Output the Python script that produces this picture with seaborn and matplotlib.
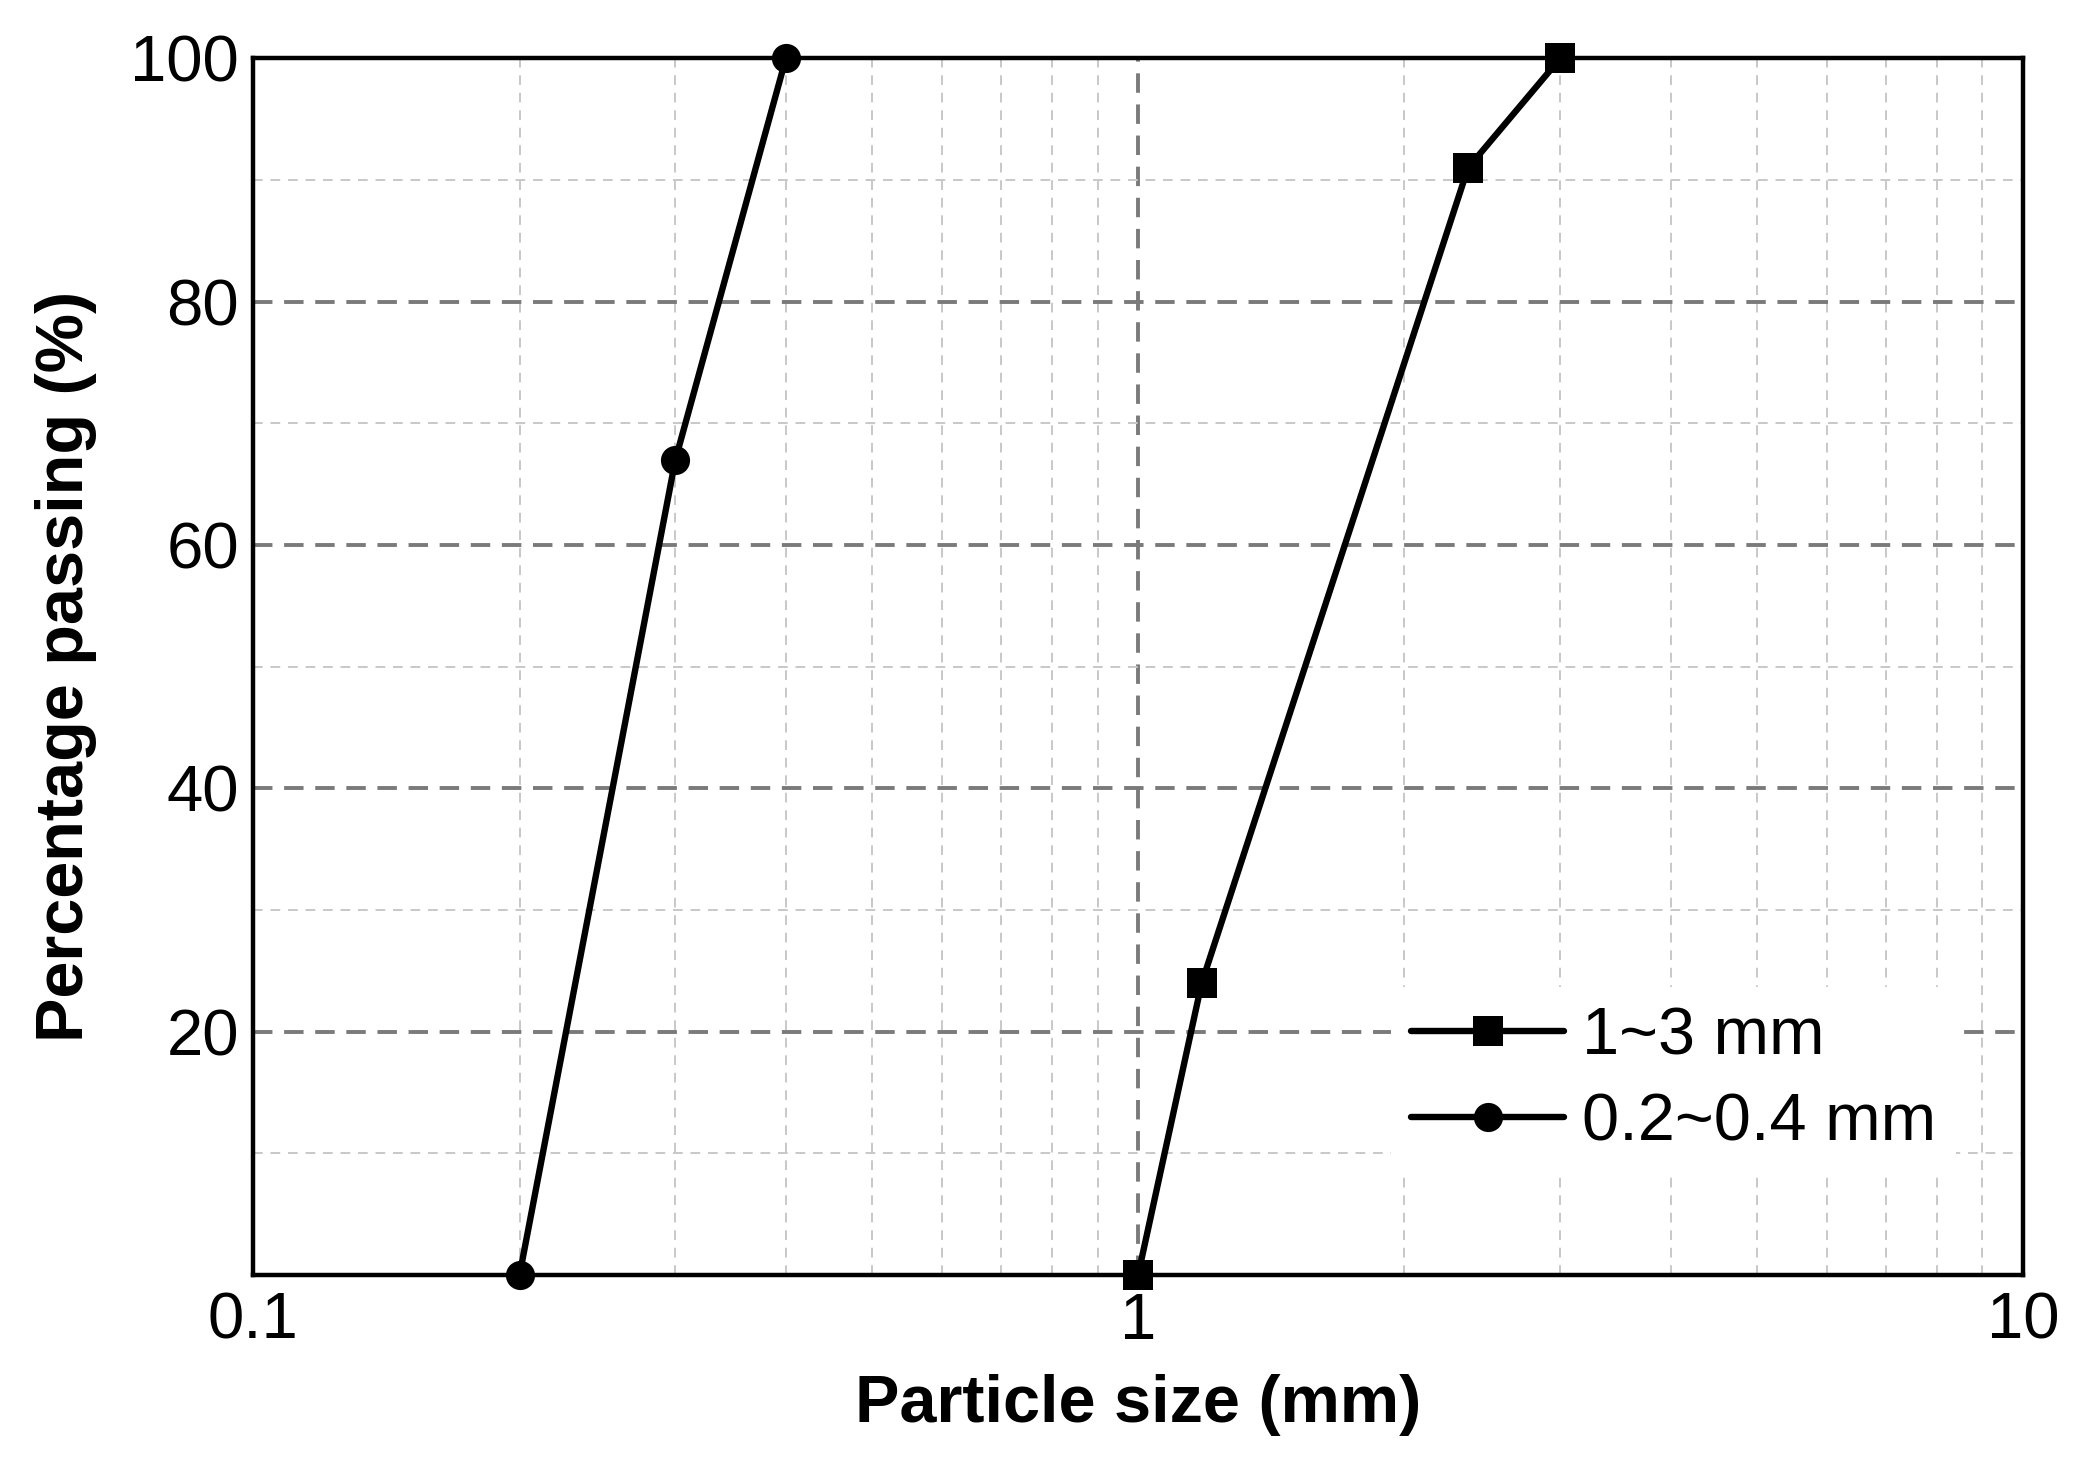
import pandas as pd
import seaborn as sns
import matplotlib.pyplot as plt
from matplotlib.ticker import FixedLocator, NullFormatter

# 粒度データ (ふるい寸法 mm, 通過率 %)
coarse_size = [1.0, 1.18, 2.36, 3.0]
coarse_pass = [0, 24, 91, 100]
fine_size = [0.2, 0.3, 0.4]
fine_pass = [0, 67, 100]
series_names = ['1~3 mm', '0.2~0.4 mm']

x_ticks = [0.1, 1, 10]
x_ticklabels = ['0.1', '1', '10']
x_minor = [0.2, 0.3, 0.4, 0.5, 0.6, 0.7, 0.8, 0.9, 2, 3, 4, 5, 6, 7, 8, 9]
y_ticks = [20, 40, 60, 80, 100]
y_minor = [10, 30, 50, 70, 90]

df = pd.concat([
    pd.DataFrame({'size': coarse_size, 'passing': coarse_pass, 'grade': series_names[0]}),
    pd.DataFrame({'size': fine_size, 'passing': fine_pass, 'grade': series_names[1]}),
], ignore_index=True)

sns.set_style('white')
plt.rcParams['font.family'] = ['Liberation Sans', 'DejaVu Sans']
plt.rcParams['text.color'] = 'black'
plt.rcParams['axes.labelcolor'] = 'black'
plt.rcParams['xtick.color'] = 'black'
plt.rcParams['ytick.color'] = 'black'

fig = plt.figure(figsize=(20.92, 14.59), dpi=100)
ax = fig.add_axes([0.121, 0.126, 0.846, 0.834])

sns.lineplot(data=df, x='size', y='passing', hue='grade', style='grade',
             hue_order=series_names, style_order=series_names,
             markers={series_names[0]: 's', series_names[1]: 'o'}, dashes=False,
             palette={series_names[0]: 'black', series_names[1]: 'black'},
             markersize=21, linewidth=4.6, markeredgewidth=0,
             estimator=None, ax=ax)
for ln in ax.lines:
    ln.set_clip_on(False)
    ln.set_zorder(5)

ax.set_xscale('log')
ax.set_xlim(0.1, 10)
ax.set_ylim(0, 100)
ax.xaxis.set_major_locator(FixedLocator(x_ticks))
ax.set_xticklabels(x_ticklabels)
ax.xaxis.set_minor_locator(FixedLocator(x_minor))
ax.xaxis.set_minor_formatter(NullFormatter())
ax.set_yticks(y_ticks)
ax.yaxis.set_minor_locator(FixedLocator(y_minor))

ax.set_axisbelow(True)
ax.grid(which='major', color='#7a7a7a', linestyle=(0, (5, 3)), linewidth=2.8)
ax.grid(which='minor', color='#c8c8c8', linestyle=(0, (5, 4)), linewidth=1.4)

for sp in ax.spines.values():
    sp.set_color('black')
    sp.set_linewidth(3.2)
    sp.set_zorder(4)

ax.tick_params(which='both', length=0)
ax.tick_params(axis='x', labelsize=47, pad=12)
ax.tick_params(axis='y', labelsize=47, pad=10)

ax.set_xlabel('Particle size (mm)', fontsize=48, fontweight='bold', labelpad=16)
ax.set_ylabel('Percentage passing (%)', fontsize=48, fontweight='bold', labelpad=24)

handles, labels = ax.get_legend_handles_labels()
leg = ax.legend(handles, labels, loc='center left', bbox_to_anchor=(0.643, 0.16),
                fontsize=48, frameon=True, facecolor='white', edgecolor='none',
                framealpha=1, fancybox=False, handlelength=2.3, handletextpad=0.26,
                labelspacing=0.35, borderpad=0.3, borderaxespad=0)
leg.set_zorder(3)

plt.savefig('out.png', dpi=100)
